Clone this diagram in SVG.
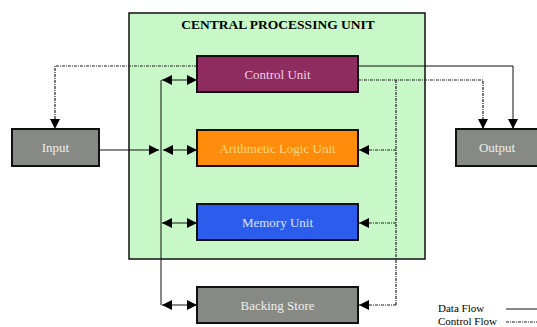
<svg xmlns="http://www.w3.org/2000/svg" width="537" height="327" viewBox="0 0 537 327">
<defs>
<marker id="ah" viewBox="0 0 10 10" refX="10" refY="5" markerWidth="10" markerHeight="10" markerUnits="userSpaceOnUse" orient="auto-start-reverse">
<path d="M0,0 L10,5 L0,10 Z" fill="#000"/>
</marker>
</defs>
<style>
.box{stroke:#111;stroke-width:2}
.lbl{font-family:"Liberation Serif",serif;font-size:13px;text-anchor:middle}
.data{fill:none;stroke:#111;stroke-width:1}
.ctrl{fill:none;stroke:#222;stroke-width:1.2;stroke-dasharray:3,1,1,1}
.leg{font-family:"Liberation Serif",serif;font-size:11px;fill:#000}
</style>
<rect width="537" height="327" fill="#fff"/>
<g id="cpu">
<rect x="129" y="13" width="296" height="246" fill="#c8f8c8" stroke="#111" stroke-width="1.5"/>
<text x="278" y="29" font-family="Liberation Serif,serif" font-size="13.5" font-weight="bold" text-anchor="middle">CENTRAL PROCESSING UNIT</text>
</g>
<g id="connectors">
<path class="data" d="M161,80 V305"/>
<path class="data" d="M162,80 H197" marker-start="url(#ah)" marker-end="url(#ah)"/>
<path class="data" d="M163,150 H197" marker-start="url(#ah)" marker-end="url(#ah)"/>
<path class="data" d="M162,223 H197" marker-start="url(#ah)" marker-end="url(#ah)"/>
<path class="data" d="M162,305 H197" marker-start="url(#ah)" marker-end="url(#ah)"/>
<path class="data" d="M99,150 H159" marker-end="url(#ah)"/>
<path class="data" d="M358,66 H513 V129" marker-end="url(#ah)"/>
<path class="ctrl" d="M197,66 H55 V129" marker-end="url(#ah)"/>
<path class="ctrl" d="M358,80 H483 V129" marker-end="url(#ah)"/>
<path class="ctrl" d="M396,80 V305"/>
<path class="ctrl" d="M396,150 H359" marker-end="url(#ah)"/>
<path class="ctrl" d="M396,223 H359" marker-end="url(#ah)"/>
<path class="ctrl" d="M396,305 H359" marker-end="url(#ah)"/>
</g>
<g id="control-unit">
<rect class="box" x="197" y="56" width="161" height="36" fill="#8e2c5f"/>
<text class="lbl" x="277.5" y="79" fill="#f3cde6">Control Unit</text>
</g>
<g id="alu">
<rect class="box" x="197" y="130" width="161" height="36" fill="#ff8c0a"/>
<text class="lbl" x="277.5" y="153" fill="#f8d888">Arithmetic Logic Unit</text>
</g>
<g id="memory-unit">
<rect class="box" x="197" y="204" width="161" height="36" fill="#2c5cec"/>
<text class="lbl" x="277.5" y="227" fill="#dde4ff">Memory Unit</text>
</g>
<g id="backing-store">
<rect class="box" x="197" y="287" width="161" height="36" fill="#878a84"/>
<text class="lbl" x="277.5" y="310" fill="#eeeeee">Backing Store</text>
</g>
<g id="input">
<rect class="box" x="12" y="129" width="87" height="37" fill="#878a84"/>
<text class="lbl" x="55.5" y="152" fill="#eeeeee">Input</text>
</g>
<g id="output">
<rect class="box" x="456" y="129" width="82" height="37" fill="#878a84"/>
<text class="lbl" x="497" y="152" fill="#eeeeee">Output</text>
</g>
<g id="legend">
<text class="leg" x="438" y="312">Data Flow</text>
<text class="leg" x="438" y="325">Control Flow</text>
<path class="data" d="M506,309 H537"/>
<path class="ctrl" d="M506,322 H537" stroke-width="0.8"/>
</g>
</svg>
